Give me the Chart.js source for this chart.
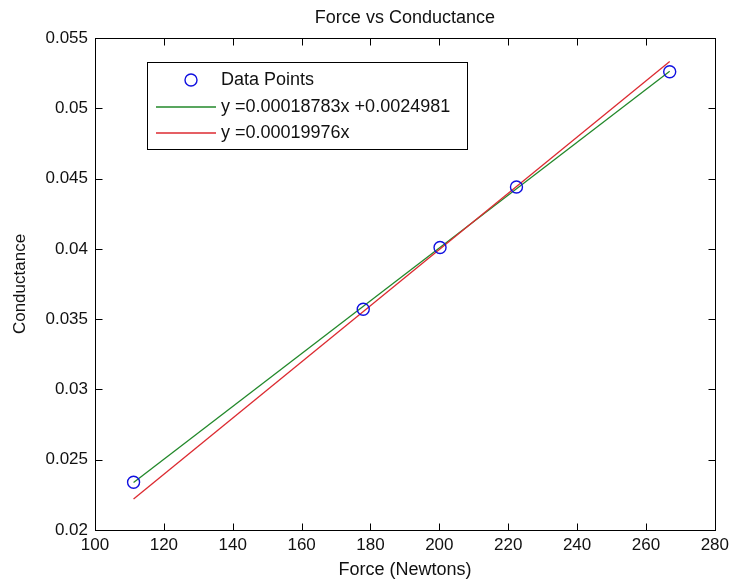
<!DOCTYPE html>
<html>
<head>
<meta charset="utf-8">
<title>Force vs Conductance</title>
<script src="https://cdn.jsdelivr.net/npm/chart.js@4.4.0/dist/chart.umd.min.js"></script>
<style>
  html, body { margin: 0; padding: 0; background: #fff; }
  #wrap { width: 734px; height: 585px; }
</style>
</head>
<body>
<div id="wrap"><canvas id="forceChart" width="734" height="585"></canvas></div>
<script>
// measured points
const forceN = [111.2, 177.9, 200.2, 222.4, 266.9];
const conductance = [0.0234, 0.0357, 0.0401, 0.0444, 0.0526];

// fit lines, end points
const fitX = [111.2, 266.9];
const linFitY = [0.02338, 0.05263];
const originFitY = [0.02221, 0.05332];

const xTicks = [100, 120, 140, 160, 180, 200, 220, 240, 260, 280];
const yTicks = [0.02, 0.025, 0.03, 0.035, 0.04, 0.045, 0.05, 0.055];
const yTickLabels = ['0.02', '0.025', '0.03', '0.035', '0.04', '0.045', '0.05', '0.055'];

const FONT = "'Liberation Sans', Arial, sans-serif";
const TXT = '#111';

// MATLAB style box, inward ticks and a legend inside the axes
const matlabAxes = {
  id: 'matlabAxes',
  afterDraw(chart) {
    const { ctx, chartArea: a, scales } = chart;
    const L = Math.round(a.left) + 0.5, R = Math.round(a.right) + 0.5;
    const T = Math.round(a.top) + 0.5, B = Math.round(a.bottom) + 0.5;
    const tl = 7;
    ctx.save();
    ctx.strokeStyle = '#000';
    ctx.lineWidth = 1;
    ctx.strokeRect(L, T, R - L, B - T);
    ctx.beginPath();
    scales.x.ticks.forEach(t => {
      const px = Math.round(scales.x.getPixelForValue(t.value)) + 0.5;
      ctx.moveTo(px, B); ctx.lineTo(px, B - tl);
      ctx.moveTo(px, T); ctx.lineTo(px, T + tl);
    });
    scales.y.ticks.forEach(t => {
      const py = Math.round(scales.y.getPixelForValue(t.value)) + 0.5;
      ctx.moveTo(L, py); ctx.lineTo(L + tl, py);
      ctx.moveTo(R, py); ctx.lineTo(R - tl, py);
    });
    ctx.stroke();

    // legend box
    const bx = 147.5, by = 62.5, bw = 320, bh = 87;
    ctx.fillStyle = '#fff';
    ctx.fillRect(bx, by, bw, bh);
    ctx.strokeStyle = '#000';
    ctx.lineWidth = 1;
    ctx.strokeRect(bx, by, bw, bh);
    const rows = [80, 107, 133];
    ctx.font = '18px ' + FONT;
    ctx.textBaseline = 'middle';
    ctx.textAlign = 'left';
    chart.data.datasets.forEach((ds, i) => {
      const y = rows[i];
      ctx.strokeStyle = ds.borderColor;
      if (ds.showLine) {
        ctx.lineWidth = 1.4;
        ctx.beginPath();
        ctx.moveTo(156, y); ctx.lineTo(216, y);
        ctx.stroke();
      } else {
        ctx.lineWidth = ds.borderWidth;
        ctx.beginPath();
        ctx.arc(191, y, ds.pointRadius, 0, Math.PI * 2);
        ctx.stroke();
      }
      ctx.fillStyle = TXT;
      ctx.fillText(ds.label, 221, y);
    });
    ctx.restore();
  }
};

const ctx = document.getElementById('forceChart').getContext('2d');
const forceChart = new Chart(ctx, {
  type: 'scatter',
  data: {
    datasets: [{
      label: 'Data Points',
      data: forceN.map((x, i) => ({ x: x, y: conductance[i] })),
      showLine: false,
      pointRadius: 6,
      pointHoverRadius: 6,
      borderColor: '#1010e0',
      backgroundColor: 'rgba(0,0,0,0)',
      borderWidth: 1.4,
      order: 0
    }, {
      label: 'y =0.00018783x +0.0024981',
      data: fitX.map((x, i) => ({ x: x, y: linFitY[i] })),
      showLine: true,
      pointRadius: 0,
      borderColor: '#22882a',
      borderWidth: 1.3,
      order: 2
    }, {
      label: 'y =0.00019976x',
      data: fitX.map((x, i) => ({ x: x, y: originFitY[i] })),
      showLine: true,
      pointRadius: 0,
      borderColor: '#dc2a30',
      borderWidth: 1.3,
      order: 1
    }]
  },
  options: {
    responsive: false,
    animation: false,
    layout: { padding: { top: 0, right: 18, bottom: 0, left: 0 } },
    plugins: {
      legend: { display: false },
      tooltip: { enabled: false },
      title: {
        display: true,
        fullSize: false,
        text: 'Force vs Conductance',
        color: TXT,
        font: { family: FONT, size: 18, weight: 'normal' },
        padding: { top: 7, bottom: 9.4 }
      }
    },
    scales: {
      x: {
        type: 'linear',
        min: 100,
        max: 280,
        afterBuildTicks: s => { s.ticks = xTicks.map(v => ({ value: v })); },
        afterFit: s => { s.height = 55; },
        grid: { display: false, drawTicks: false },
        border: { display: false },
        ticks: {
          color: TXT,
          font: { family: FONT, size: 17 },
          padding: 5,
          autoSkip: false,
          maxRotation: 0,
          callback: v => String(v)
        },
        title: {
          display: true,
          text: 'Force (Newtons)',
          color: TXT,
          font: { family: FONT, size: 18 },
          padding: { top: 0, bottom: 4 }
        }
      },
      y: {
        type: 'linear',
        min: 0.02,
        max: 0.055,
        afterBuildTicks: s => { s.ticks = yTicks.map(v => ({ value: v })); },
        afterFit: s => { s.width = 95; },
        grid: { display: false, drawTicks: false },
        border: { display: false },
        ticks: {
          color: TXT,
          font: { family: FONT, size: 17 },
          padding: 7,
          autoSkip: false,
          callback: (v, i) => yTickLabels[i]
        },
        title: {
          display: true,
          text: 'Conductance',
          color: TXT,
          font: { family: FONT, size: 17 },
          padding: { top: 10, bottom: 0 }
        }
      }
    }
  },
  plugins: [matlabAxes]
});
</script>
</body>
</html>
